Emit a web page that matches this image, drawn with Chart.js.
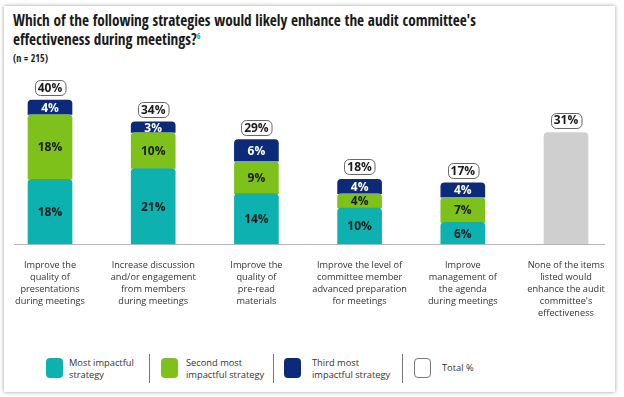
<!DOCTYPE html>
<html>
<head>
<meta charset="utf-8">
<script src="https://cdn.jsdelivr.net/npm/chart.js@4.4.1/dist/chart.umd.min.js"></script>
<style>
    html, body { margin: 0; padding: 0; background: #fff; }
    body { width: 624px; height: 397px; position: relative; overflow: hidden; font-family: "Open Sans", sans-serif; color: #222; }
    .card { position: absolute; left: 4px; top: 6px; width: 611px; height: 386px; background: #fff; box-shadow: 0 0 4px rgba(0,0,0,0.4); }
    .title { position: absolute; left: 13px; top: 11px; font-family: "Open Sans Condensed", "Open Sans"; font-weight: 700; font-size: 15.2px; line-height: 19px; color: #1a1a1a; white-space: nowrap; }
    .title sup { font-size: 8px; color: #3a8fd0; font-weight: 600; vertical-align: 6px; line-height: 0; }
    .n { position: absolute; left: 13px; top: 51px; font-family: "Open Sans Condensed", "Open Sans"; font-weight: 700; font-size: 10px; color: #1a1a1a; }
    .wrap { position: absolute; left: 0; top: 0; width: 624px; height: 340px; }
    .legend { position: absolute; left: 0; top: 352px; width: 624px; height: 32px; font-size: 9.3px; line-height: 12px; color: #333; }
    .legend .sw { position: absolute; top: 6px; width: 17px; height: 20px; border-radius: 4px; box-sizing: border-box; }
    .legend .tx { position: absolute; top: 5px; white-space: nowrap; }
    .legend .sep { position: absolute; top: 2px; width: 1px; height: 29px; background: #777; }
</style>
</head>
<body>
<div class="card"></div>
<div class="title">Which of the following strategies would likely enhance the audit committee's<br>effectiveness during meetings?<sup>6</sup></div>
<div class="n">(n = 215)</div>
<div class="wrap"><canvas id="chart"></canvas></div>
<div class="legend" id="legend"></div>

<script>
const categories = [
    ["Improve the", "quality of", "presentations", "during meetings"],
    ["Increase discussion", "and/or engagement", "from members", "during meetings"],
    ["Improve the", "quality of", "pre-read", "materials"],
    ["Improve the level of", "committee member", "advanced preparation", "for meetings"],
    ["Improve", "management of", "the agenda", "during meetings"],
    ["None of the items", "listed would", "enhance the audit", "committee's", "effectiveness"],
];
const mostImpactful = [18, 21, 14, 10, 6, null];
const secondImpactful = [18, 10, 9, 4, 7, null];
const thirdImpactful = [4, 3, 6, 4, 4, null];
const noneOfItems = [null, null, null, null, null, 31];
const totals = [40, 34, 29, 18, 17, 31];

const TEAL = "#0db1b0";
const GREEN = "#7dc11a";
const NAVY = "#0b2a7a";
const GRAY = "#cfcfcf";

const legendItems = [
    { lines: ["Most impactful", "strategy"], color: TEAL, sw: 46, tx: 69 },
    { lines: ["Second most", "impactful strategy"], color: GREEN, sw: 161, tx: 186, sep: 149 },
    { lines: ["Third most", "impactful strategy"], color: NAVY, sw: 284, tx: 312, sep: 273 },
    { lines: ["Total %"], color: null, sw: 414, tx: 442, sep: 402 },
];

function renderLegend() {
    const el = document.getElementById("legend");
    el.innerHTML = legendItems.map(it => {
        const sw = it.color
            ? `<div class="sw" style="left:${it.sw}px;background:${it.color}"></div>`
            : `<div class="sw" style="left:${it.sw}px;border:1px solid #777;background:#fff"></div>`;
        const top = it.lines.length === 1 ? 10 : 5;
        const sep = it.sep ? `<div class="sep" style="left:${it.sep}px"></div>` : "";
        return sep + sw + `<div class="tx" style="left:${it.tx}px;top:${top}px">${it.lines.join("<br>")}</div>`;
    }).join("");
}

// segment values inside the bars, total boxes above them, and the baseline
const labelPlugin = {
    id: "labels",
    afterDatasetsDraw(chart) {
        const { ctx } = chart;
        ctx.save();
        ctx.strokeStyle = "#b5b5b5";
        ctx.lineWidth = 1;
        ctx.beginPath();
        ctx.moveTo(14, chart.chartArea.bottom + 0.5);
        ctx.lineTo(605, chart.chartArea.bottom + 0.5);
        ctx.stroke();

        ctx.font = "bold 12px 'Open Sans'";
        ctx.textAlign = "center";
        ctx.textBaseline = "middle";
        const textColors = ["#1a1a1a", "#1a1a1a", "#ffffff"];
        const tops = categories.map(() => Infinity);
        chart.data.datasets.forEach((ds, di) => {
            const meta = chart.getDatasetMeta(di);
            meta.data.forEach((bar, i) => {
                const v = ds.data[i];
                if (v === null || v === undefined) return;
                tops[i] = Math.min(tops[i], bar.y);
                if (di > 2) return;
                ctx.fillStyle = textColors[di];
                ctx.fillText(v + "%", bar.x, (bar.y + bar.base) / 2 + 1);
            });
        });

        const meta0 = chart.getDatasetMeta(0);
        totals.forEach((t, i) => {
            const x = meta0.data[i].x;
            const txt = t + "%";
            const w = ctx.measureText(txt).width + 6;
            const h = 15;
            const bottom = tops[i] - 5;
            ctx.beginPath();
            ctx.roundRect(Math.round(x - w / 2) + 0.5, Math.round(bottom - h) + 0.5, w, h, 5);
            ctx.fillStyle = "#fff";
            ctx.fill();
            ctx.strokeStyle = "#666";
            ctx.lineWidth = 1;
            ctx.stroke();
            ctx.fillStyle = "#1a1a1a";
            ctx.fillText(txt, x, bottom - h / 2 + 1);
        });
        ctx.restore();
    }
};

function buildChart() {
    const common = {
        barThickness: 44,
        borderRadius: { topLeft: 4, topRight: 4, bottomLeft: 0, bottomRight: 0 },
        borderSkipped: "start",
        clip: false,
    };
    new Chart(document.getElementById("chart"), {
        type: "bar",
        data: {
            labels: categories,
            datasets: [
                { label: "Most impactful strategy", data: mostImpactful, backgroundColor: TEAL, ...common },
                { label: "Second most impactful strategy", data: secondImpactful, backgroundColor: GREEN, ...common },
                { label: "Third most impactful strategy", data: thirdImpactful, backgroundColor: NAVY, ...common },
                { label: "None of the items listed", data: noneOfItems, backgroundColor: GRAY, ...common },
            ]
        },
        options: {
            responsive: true,
            maintainAspectRatio: false,
            animation: false,
            layout: { padding: { left: 50, right: 58, top: 80, bottom: 0 } },
            plugins: {
                legend: { display: false },
                tooltip: { enabled: false },
            },
            scales: {
                x: {
                    stacked: true,
                    offset: false,
                    grid: { display: false, drawTicks: false },
                    border: { display: false },
                    ticks: {
                        color: "#333",
                        padding: 15,
                        maxRotation: 0,
                        autoSkip: false,
                        font: { family: "'Open Sans'", size: 9.2, lineHeight: "12px" },
                    },
                    afterFit(scale) { scale.height = 96; },
                },
                y: {
                    stacked: true,
                    display: false,
                    min: 0,
                    max: 45.6,
                },
            },
        },
        plugins: [labelPlugin],
    });
}

renderLegend();
buildChart();
</script>
</body>
</html>
